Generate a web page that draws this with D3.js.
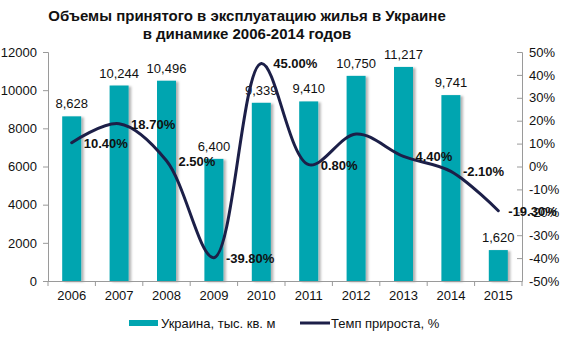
<!DOCTYPE html>
<html><head><meta charset="utf-8">
<script src="https://cdn.jsdelivr.net/npm/d3@7"></script>
<style>body{margin:0;background:#fff}svg{font-family:"Liberation Sans",Arial,sans-serif}</style>
</head><body><svg id="c" width="570" height="340"></svg>
<script>
const years = ["2006","2007","2008","2009","2010","2011","2012","2013","2014","2015"];
const volumes = [8628,10244,10496,6400,9339,9410,10750,11217,9741,1620];
const growth = [10.4,18.7,2.5,-39.8,45.0,0.8,14.2,4.4,-2.1,-19.3];
const growthLabels = ["10.40%","18.70%","2.50%","-39.80%","45.00%","0.80%","","4.40%","-2.10%","-19.30%"];
const leftTicks = [0,2000,4000,6000,8000,10000,12000];
const rightTicks = [-50,-40,-30,-20,-10,0,10,20,30,40,50];
const titleLines = ["Объемы принятого в эксплуатацию жилья в Украине","в динамике 2006-2014 годов"];
const legendNames = ["Украина, тыс. кв. м","Темп прироста, %"];

const teal = "#00a5b0", navy = "#1c1f48", axisC = "#9a9a9a";
const svg = d3.select("#c");
const m = {l:48, r:522, t:52, b:281};
const x = d3.scaleBand().domain(years).range([m.l,m.r]);
const yL = d3.scaleLinear().domain([0,12000]).range([m.b,m.t]);
const yR = d3.scaleLinear().domain([-50,50]).range([m.b,m.t]);

const defs = svg.append("defs");
const f = defs.append("filter").attr("id","sh").attr("x","-20%").attr("y","-5%").attr("width","160%").attr("height","115%");
f.append("feDropShadow").attr("dx",2.5).attr("dy",1).attr("stdDeviation",1.2).attr("flood-color","#000").attr("flood-opacity",0.3);

// title
svg.append("g").selectAll("text").data(titleLines).join("text")
  .attr("x",247).attr("y",(d,i)=>21+i*18).attr("text-anchor","middle")
  .attr("font-weight","bold").attr("font-size",15).attr("fill","#111").text(d=>d);

// bars
const bw = 19;
svg.append("g").selectAll("rect").data(volumes).join("rect")
  .attr("x",(d,i)=>x(years[i])+x.bandwidth()/2-bw/2).attr("width",bw)
  .attr("y",d=>yL(d)).attr("height",d=>yL(0)-yL(d))
  .attr("fill",teal).attr("filter","url(#sh)");
svg.append("g").selectAll("text").data(volumes).join("text")
  .attr("x",(d,i)=>x(years[i])+x.bandwidth()/2).attr("y",d=>yL(d)-8)
  .attr("text-anchor","middle").attr("font-size",13).attr("fill","#111")
  .text(d=>d3.format(",")(d));

// axes
const gL = svg.append("g").attr("transform",`translate(${m.l},0)`)
  .call(d3.axisLeft(yL).tickValues(leftTicks).tickSize(5).tickPadding(6).tickFormat(d=>d));
const gR = svg.append("g").attr("transform",`translate(${m.r},0)`)
  .call(d3.axisRight(yR).tickValues(rightTicks).tickSize(-5).tickPadding(7).tickFormat(d=>d+"%"));
const gX = svg.append("g").attr("transform",`translate(0,${m.b})`)
  .call(d3.axisBottom(x).tickSize(0).tickPadding(10));
svg.append("g").selectAll("line").data(years.concat(["end"])).join("line")
  .attr("x1",(d,i)=>m.l+i*x.step()).attr("x2",(d,i)=>m.l+i*x.step())
  .attr("y1",m.b).attr("y2",m.b+5).attr("stroke",axisC);
[gL,gR,gX].forEach(g=>{
  g.selectAll("path,line").attr("stroke",axisC);
  g.selectAll("text").attr("font-size",13).attr("fill","#111").attr("font-family","Liberation Sans, Arial, sans-serif");
});
gX.select(".domain").attr("d",`M${m.l},0.5H${m.r}`);

// line
const line = d3.line().x((d,i)=>x(years[i])+x.bandwidth()/2).y(d=>yR(d)).curve(d3.curveCatmullRom.alpha(0.5));
svg.append("path").datum(growth).attr("d",line).attr("fill","none")
  .attr("stroke",navy).attr("stroke-width",3).attr("stroke-linecap","round");
svg.append("g").selectAll("text").data(growth).join("text")
  .attr("x",(d,i)=>x(years[i])+x.bandwidth()/2+(i===9?10:12)).attr("y",d=>yR(d)+5)
  .attr("font-size",13).attr("font-weight","bold").attr("fill","#111")
  .text((d,i)=>growthLabels[i]);

// legend
const lg = svg.append("g");
lg.append("rect").attr("x",129).attr("y",320).attr("width",29).attr("height",6).attr("fill",teal);
lg.append("text").attr("x",161).attr("y",328).attr("font-size",13).attr("fill","#111").text(legendNames[0]);
lg.append("line").attr("x1",300).attr("x2",330).attr("y1",323).attr("y2",323).attr("stroke",navy).attr("stroke-width",3);
lg.append("text").attr("x",331).attr("y",328).attr("font-size",13).attr("fill","#111").text(legendNames[1]);
</script></body></html>
